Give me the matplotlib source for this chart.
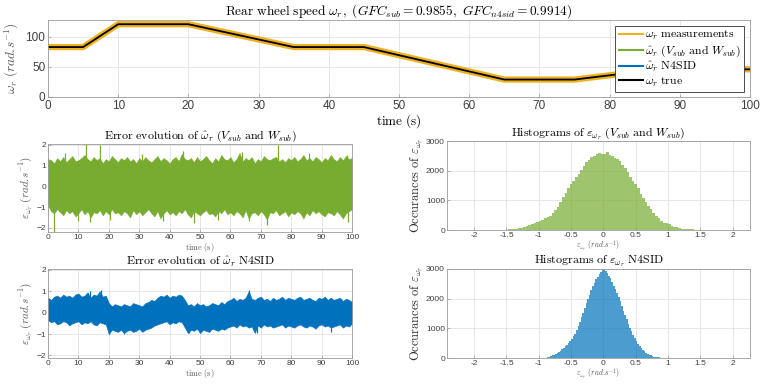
import numpy as np
import matplotlib
matplotlib.use("Agg")
import matplotlib.pyplot as plt
from matplotlib.lines import Line2D

plt.rcParams['font.family'] = ['Liberation Sans', 'DejaVu Sans']
plt.rcParams['mathtext.fontset'] = 'cm'

# --- data ---
# true rear wheel speed (piecewise linear)
t_true = [0, 5, 10, 20, 35, 45, 65, 75, 87, 100]
w_true = [83, 83, 121, 121, 83, 83, 29, 29, 46, 46]

# error envelope of the sub estimator, one value per second
t_err = np.arange(0, 101)
green_upper = [1.3, 1.25, 1.1, 1.35, 1.2, 1.4, 1.15, 1.3, 1.45, 1.2,
               1.25, 1.35, 1.5, 1.3, 1.2, 1.4, 1.25, 1.35, 1.1, 1.3,
               1.2, 1.45, 1.3, 1.15, 1.35, 1.25, 1.4, 1.2, 1.3, 1.1,
               1.35, 1.2, 1.4, 1.25, 1.15, 1.3, 1.45, 1.2, 1.35, 1.25,
               1.1, 1.3, 1.4, 1.2, 1.55, 1.3, 1.25, 1.35, 1.15, 1.4,
               1.2, 1.3, 1.45, 1.25, 1.1, 1.35, 1.2, 1.5, 1.3, 1.25,
               1.4, 1.15, 1.3, 1.6, 1.2, 1.35, 1.25, 1.4, 1.1, 1.3,
               1.2, 1.45, 1.3, 1.25, 1.35, 1.4, 1.2, 1.3, 1.15, 1.35,
               1.25, 1.4, 1.2, 1.3, 1.5, 1.25, 1.35, 1.2, 1.4, 1.3,
               1.15, 1.35, 1.25, 1.5, 1.3, 1.2, 1.4, 1.25, 1.45, 1.3, 1.35]
green_lower = [-0.9, -1.2, -1.3, -1.1, -1.25, -1.4, -1.15, -1.3, -1.2, -1.45,
               -1.3, -1.1, -1.35, -1.2, -1.5, -1.25, -1.3, -1.15, -1.4, -1.2,
               -1.35, -1.1, -1.3, -1.25, -1.4, -1.2, -1.3, -1.5, -1.15, -1.35,
               -1.2, -1.4, -1.25, -1.1, -1.3, -1.45, -1.2, -1.55, -1.3, -1.15,
               -1.35, -1.25, -1.4, -1.2, -1.3, -1.1, -1.35, -1.5, -1.2, -1.3,
               -1.4, -1.25, -1.15, -1.35, -1.3, -1.45, -1.2, -1.3, -1.1, -1.35,
               -1.25, -1.4, -1.2, -1.3, -1.5, -1.15, -1.55, -1.3, -1.25, -1.4,
               -1.2, -1.35, -1.6, -1.25, -1.3, -1.15, -1.4, -1.3, -1.2, -1.45,
               -1.25, -1.35, -1.2, -1.3, -1.55, -1.25, -1.4, -1.15, -1.3, -1.2,
               -1.35, -1.45, -1.25, -1.3, -1.4, -1.2, -1.35, -1.55, -1.3, -1.2, -1.1]
green_spike_t = [12.4, 17, 44.3, 63.7, 75.5, 98.4, 5.5, 31, 86,
                 1.9, 10, 13.7, 37.9, 48, 66, 72, 98.8, 20.5, 56]
green_spike_v = [2.05, 2.0, 1.7, 1.65, 2.0, 1.5, 1.6, 1.55, 1.6,
                 -2.2, -1.65, -1.7, -1.65, -1.75, -1.65, -1.85, -1.7, -1.6, -1.6]

# error envelope of N4SID
blue_upper = [0.7, 0.6, 0.75, 0.8, 0.7, 0.85, 0.75, 0.8, 0.7, 0.85,
              0.9, 0.75, 0.8, 0.95, 0.7, 0.85, 0.8, 1.0, 0.75, 0.8,
              0.45, 0.3, 0.4, 0.35, 0.3, 0.4, 0.35, 0.3, 0.45, 0.4,
              0.35, 0.3, 0.45, 0.5, 0.6, 0.55, 0.7,
              0.8, 0.75, 0.85, 0.7, 0.8, 0.75, 0.85, 0.8,
              0.6, 0.35, 0.4, 0.3, 0.45, 0.35, 0.4, 0.3, 0.35, 0.45,
              0.4, 0.35, 0.5, 0.4, 0.55,
              0.6, 0.7, 0.55, 0.65, 0.6, 0.7, 1.0, 0.65, 0.6, 0.7,
              0.75, 0.6, 0.65, 0.55, 0.7, 0.6, 0.65, 0.75, 0.6, 0.7,
              0.65, 0.6, 0.7, 0.75, 0.6, 0.65, 0.7, 0.6, 0.55, 0.7,
              0.65, 0.75, 0.6, 0.7, 0.6, 0.65, 0.7, 0.55, 0.65, 0.6, 0.5]
blue_lower = [-0.35, -0.45, -0.4, -0.55, -0.5, -0.4, -0.45, -0.6, -0.5, -0.45,
              -0.4, -0.55, -0.45, -0.5, -0.4, -0.55, -0.6, -0.45, -0.5, -0.55,
              -1.0, -0.8, -0.85, -0.9, -0.8, -0.95, -0.85, -0.8, -0.9, -0.85,
              -0.75, -0.9, -0.8, -0.75, -0.7, -0.6, -0.55,
              -0.5, -0.45, -0.4, -0.55, -0.45, -0.5, -0.4, -0.45,
              -0.7, -0.95, -0.8, -0.85, -0.75, -0.95, -0.8, -0.85, -0.9, -0.75,
              -0.8, -0.85, -0.75, -0.8, -0.7,
              -0.65, -0.6, -0.7, -0.55, -0.65, -0.6, -0.7, -0.65, -0.95, -0.6,
              -0.7, -0.55, -0.65, -0.6, -0.7, -0.65, -0.6, -0.55, -0.7, -0.6,
              -0.65, -0.7, -0.6, -0.55, -0.65, -0.7, -0.6, -0.65, -0.75, -0.6,
              -0.55, -0.65, -0.6, -0.7, -0.65, -0.6, -0.55, -0.7, -0.6, -0.65, -0.5]
blue_spike_t = [13.8, 17.3, 66, 20.2, 25, 50, 68.8, 46.5, 93]
blue_spike_v = [1.0, 1.05, 1.05, -1.0, -1.0, -0.95, -0.97, -0.97, -0.9]

# histogram bin counts
green_edges = np.linspace(-1.8, 1.8, 91)
green_counts = [2, 3, 4, 5, 7, 9, 12, 16, 20, 27,
                34, 45, 58, 75, 110, 130, 160, 190, 230, 270,
                300, 350, 390, 430, 480, 570, 690, 790, 950, 1100,
                1260, 1420, 1540, 1660, 1780, 1900, 2010, 2160, 2290, 2350,
                2460, 2500, 2550, 2580, 2570, 2560, 2630, 2520, 2490, 2440,
                2380, 2330, 2200, 2080, 1960, 1800, 1660, 1540, 1400, 1230,
                1090, 960, 820, 700, 580, 470, 390, 300, 250, 230,
                215, 150, 110, 85, 62, 48, 40, 30, 24, 18,
                14, 11, 9, 7, 6, 5, 4, 3, 2, 2]
blue_edges = np.linspace(-1.0, 1.0, 81)
blue_counts = [3, 5, 7, 10, 15, 22, 30, 55, 85, 105,
               140, 175, 210, 250, 290, 340, 400, 450, 510, 580,
               650, 730, 820, 940, 1080, 1200, 1380, 1520, 1680, 1840,
               1980, 2130, 2300, 2420, 2520, 2660, 2740, 2830, 2900, 2960,
               2980, 2920, 2880, 2760, 2680, 2560, 2440, 2330, 2200, 2040,
               1930, 1760, 1600, 1460, 1300, 1150, 1020, 900, 780, 660,
               560, 470, 400, 330, 270, 220, 175, 140, 110, 85,
               65, 48, 35, 25, 18, 12, 8, 5, 3, 2]

c_orange = '#EDB120'
c_green = '#77AC30'
c_blue = '#0072BD'
grid_c = '#e3e3e3'
spine_c = '#9a9a9a'
tick_c = '#404040'
lab_c = '#5a5a5a'

unit = r"(rad.\!s^{-1})"


def style(ax, fs, pad=2):
    ax.grid(True, color=grid_c, linewidth=0.6)
    ax.set_axisbelow(True)
    for s in ax.spines.values():
        s.set_color(spine_c)
        s.set_linewidth(0.6)
    ax.tick_params(direction='in', length=2.5, width=0.5, colors=spine_c,
                   labelcolor=tick_c, labelsize=fs, pad=pad)


fig = plt.figure(figsize=(7.61, 3.84), dpi=100)

# top: speed
ax0 = fig.add_axes([0.0631, 0.7474, 0.9225, 0.2005])
ax0.plot(t_true, w_true, color=c_orange, linewidth=4.5)
ax0.plot(t_true, w_true, color='black', linewidth=1.3)
ax0.set_xlim(0, 100)
ax0.set_ylim(0, 128)
ax0.set_xticks(np.arange(0, 101, 10))
ax0.set_yticks([0, 50, 100])
style(ax0, 8.5)
ax0.set_title(r"$\mathrm{Rear\ wheel\ speed}\ \omega_r,\ (GFC_{sub}=0.9855,\ GFC_{n4sid}=0.9914)$",
              fontsize=9.6, pad=3)
ax0.set_xlabel(r"$\mathrm{time\ (s)}$", fontsize=9.5, labelpad=0)
ax0.set_ylabel(r"$\omega_r\ " + unit + "$", fontsize=9.5, color=lab_c, labelpad=3)
handles = [Line2D([], [], color=c_orange, lw=1.5),
           Line2D([], [], color=c_green, lw=1.5),
           Line2D([], [], color=c_blue, lw=1.5),
           Line2D([], [], color='black', lw=1.5)]
labels = [r"$\omega_r\ \mathrm{measurements}$",
          r"$\hat{\omega}_r\ (V_{sub}\ \mathrm{and}\ W_{sub})$",
          r"$\hat{\omega}_r\ \mathrm{N4SID}$",
          r"$\omega_r\ \mathrm{true}$"]
leg = ax0.legend(handles, labels, loc='upper right', fontsize=8.5, fancybox=False,
                 framealpha=1, edgecolor='#303030', handlelength=2.0, handletextpad=0.2,
                 borderpad=0.3, labelspacing=0.1, borderaxespad=0.5)
leg.get_frame().set_linewidth(0.6)

# error evolution panels
err_sets = [
    (0.3958, green_upper, green_lower, green_spike_t, green_spike_v, c_green,
     r"$\mathrm{Error\ evolution\ of}\ \hat{\omega}_r\ (V_{sub}\ \mathrm{and}\ W_{sub})$", (-2.2, 2.05)),
    (0.0677, blue_upper, blue_lower, blue_spike_t, blue_spike_v, c_blue,
     r"$\mathrm{Error\ evolution\ of}\ \hat{\omega}_r\ \mathrm{N4SID}$", (-2.12, 2.02)),
]
for bottom, up, lo, st, sv, col, title, ylim in err_sets:
    ax = fig.add_axes([0.0631, bottom, 0.3995, 0.2305])
    ax.fill_between(t_err, lo, up, color=col, linewidth=0.4, edgecolor=col)
    ax.vlines(st, 0, sv, color=col, linewidth=0.9)
    ax.set_xlim(0, 100)
    ax.set_ylim(*ylim)
    ax.set_xticks(np.arange(0, 101, 10))
    ax.set_yticks([-2, -1, 0, 1, 2])
    style(ax, 6, pad=1.5)
    ax.set_title(title, fontsize=8.6, pad=0.5)
    ax.set_xlabel(r"$\mathrm{time\ (s)}$", fontsize=6, color=lab_c, labelpad=0)
    ax.set_ylabel(r"$\varepsilon_{\omega_r}\ " + unit + "$", fontsize=8, color=lab_c, labelpad=1)

# histogram panels
hist_sets = [
    (0.4010, green_edges, green_counts, c_green,
     r"$\mathrm{Histograms\ of}\ \varepsilon_{\omega_r}\ (V_{sub}\ \mathrm{and}\ W_{sub})$"),
    (0.0677, blue_edges, blue_counts, c_blue,
     r"$\mathrm{Histograms\ of}\ \varepsilon_{\omega_r}\ \mathrm{N4SID}$"),
]
for bottom, edges, counts, col, title in hist_sets:
    ax = fig.add_axes([0.5874, bottom, 0.3982, 0.2318])
    ax.stairs(counts, edges, fill=True, color=col, alpha=0.7)
    ax.set_xlim(-2.42, 2.27)
    ax.set_ylim(0, 3000)
    ax.set_xticks(np.arange(-2, 2.01, 0.5))
    ax.set_xticklabels(['-2', '-1.5', '-1', '-0.5', '0', '0.5', '1', '1.5', '2'])
    ax.set_yticks([0, 1000, 2000, 3000])
    style(ax, 6, pad=1.5)
    ax.set_title(title, fontsize=8.6, pad=0)
    ax.set_xlabel(r"$\varepsilon_{\omega_r}\ " + unit + "$", fontsize=5.5, color=lab_c, labelpad=-0.5)
    ax.set_ylabel(r"$\mathrm{Occurances\ of}\ \varepsilon_{\omega_r}$", fontsize=9, color='#303030', labelpad=1)

fig.savefig("out.png", dpi=100)
